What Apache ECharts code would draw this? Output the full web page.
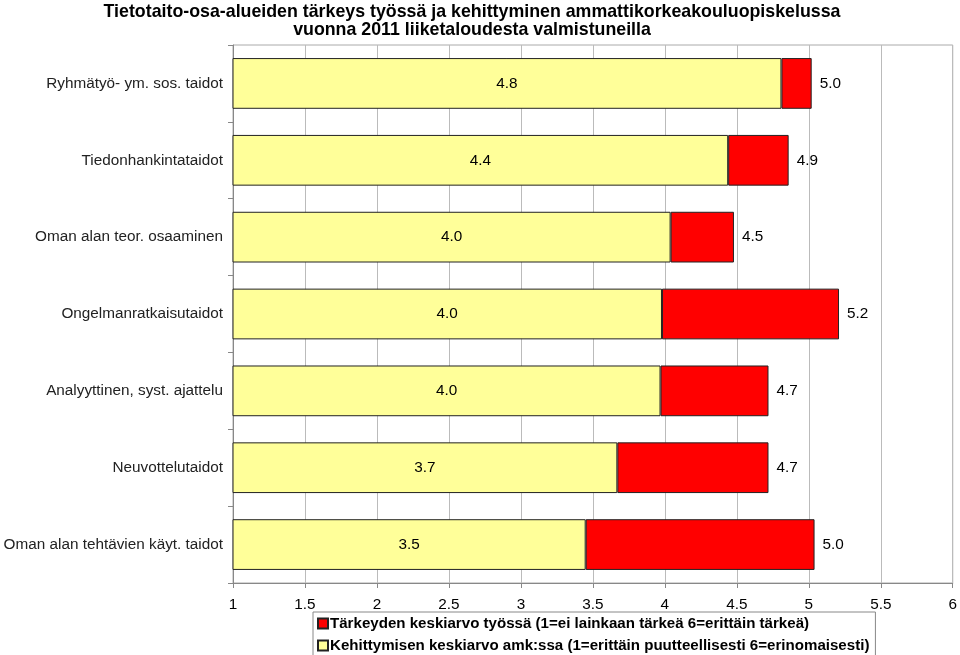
<!DOCTYPE html>
<html>
<head>
<meta charset="utf-8">
<script src="https://cdn.jsdelivr.net/npm/echarts@6/dist/echarts.min.js"></script>
<style>html,body{margin:0;padding:0;background:#fff}#c{width:960px;height:655px}</style>
</head>
<body>
<div id="c"></div>
<script>
var categories = ["Ryhmätyö- ym. sos. taidot","Tiedonhankintataidot","Oman alan teor. osaaminen","Ongelmanratkaisutaidot","Analyyttinen, syst. ajattelu","Neuvottelutaidot","Oman alan tehtävien käyt. taidot"];
var importance = [5.02, 4.86, 4.48, 5.21, 4.72, 4.72, 5.04];
var development = [4.81, 4.44, 4.04, 3.98, 3.97, 3.67, 3.45];
var xTicks = [1, 1.5, 2, 2.5, 3, 3.5, 4, 4.5, 5, 5.5, 6];
var nameImp = "Tärkeyden keskiarvo työssä (1=ei lainkaan tärkeä 6=erittäin tärkeä)";
var nameDev = "Kehittymisen keskiarvo amk:ssa (1=erittäin puutteellisesti 6=erinomaisesti)";

var diff = importance.map(function(v, i){ return +(v - development[i]).toFixed(3); });

var chart = echarts.init(document.getElementById('c'));
var font = "'Liberation Sans', Arial, sans-serif";
chart.setOption({
  animation: false,
  textStyle: {fontFamily: font},
  title: {
    text: "Tietotaito-osa-alueiden tärkeys työssä ja kehittyminen ammattikorkeakouluopiskelussa\nvuonna 2011 liiketaloudesta valmistuneilla",
    left: 467, top: -2, textAlign: 'center',
    textStyle: {fontSize: 17.8, fontWeight: 'bold', color: '#000', fontFamily: font, lineHeight: 18}
  },
  legend: {
    orient: 'vertical', left: 313, top: 612, height: 60, width: 580,
    data: [nameImp, nameDev],
    itemWidth: 10, itemHeight: 10, itemGap: 7,
    padding: [4, 6, 6, 4],
    borderColor: '#888', borderWidth: 1,
    icon: 'rect',
    textStyle: {fontSize: 15.1, fontWeight: 'bold', color: '#000', fontFamily: font, padding: [0,0,0,-3]}
  },
  grid: {left: 233, right: 4, top: 45, bottom: 72, show: true, borderColor: '#aaa', borderWidth: 1},
  xAxis: {
    type: 'value', min: 1, max: 6, interval: 0.5,
    axisLine: {show: true, lineStyle: {color: '#888'}},
    axisTick: {show: true, length: 5, lineStyle: {color: '#888'}},
    axisLabel: {fontSize: 15.3, color: '#000', margin: 14, fontFamily: font,
      formatter: function(v){ return xTicks.indexOf(v) >= 0 ? String(v) : ''; }},
    splitLine: {show: true, lineStyle: {color: '#bbb'}}
  },
  yAxis: {
    type: 'category', data: categories, inverse: true,
    axisLine: {show: true, lineStyle: {color: '#888'}},
    axisTick: {show: true, length: 5, lineStyle: {color: '#888'}},
    axisLabel: {fontSize: 15.3, color: '#222', margin: 10, fontFamily: font}
  },
  series: [
    {
      name: nameDev, type: 'bar', stack: 's', data: development,
      barCategoryGap: '34%',
      itemStyle: {color: '#FFFF99', borderColor: '#222', borderWidth: 1},
      label: {show: true, position: 'inside', fontSize: 15.3, color: '#000', fontFamily: font,
        formatter: function(p){ return development[p.dataIndex].toFixed(1); }}
    },
    {
      name: nameImp, type: 'bar', stack: 's', data: diff,
      itemStyle: {color: '#FF0000', borderColor: '#222', borderWidth: 1},
      label: {show: true, position: 'right', distance: 8, fontSize: 15.3, color: '#000', fontFamily: font,
        formatter: function(p){ return importance[p.dataIndex].toFixed(1); }}
    }
  ]
});
</script>
</body>
</html>
